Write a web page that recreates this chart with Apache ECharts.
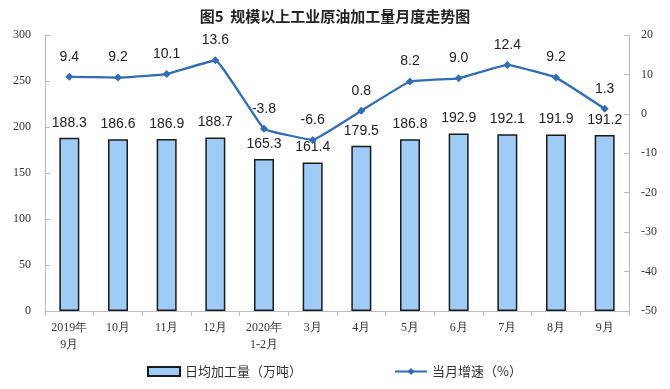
<!DOCTYPE html>
<html><head><meta charset="utf-8">
<script src="https://cdn.jsdelivr.net/npm/echarts@6/dist/echarts.min.js"></script>
<style>html,body{margin:0;padding:0;background:#fff;}#c{width:670px;height:389px;}</style>
</head><body><div id="c"></div>
<script>
const categories = ['2019年\n9月','10月','11月','12月','2020年\n1-2月','3月','4月','5月','6月','7月','8月','9月'];
const dailyOutput = [188.3,186.6,186.9,188.7,165.3,161.4,179.5,186.8,192.9,192.1,191.9,191.2];
const growth = [9.4,9.2,10.1,13.6,-3.8,-6.6,0.8,8.2,9.0,12.4,9.2,1.3];
const growthLabels = ['9.4','9.2','10.1','13.6','-3.8','-6.6','0.8','8.2','9.0','12.4','9.2','1.3'];
const chart = echarts.init(document.getElementById('c'));
const serif = '"Liberation Serif", serif';
const sans = '"Liberation Sans", Arial, sans-serif';
chart.setOption({
  animation:false,
  title:{text:'图5  规模以上工业原油加工量月度走势图',left:'center',top:4,textStyle:{fontFamily:'"Noto Sans CJK SC"',fontSize:15,fontWeight:'bold',color:'#222'}},
  grid:{left:45,right:41,top:35,bottom:78},
  legend:{bottom:6,left:142,itemGap:92,textStyle:{fontFamily:'"Noto Sans CJK SC"',fontSize:13,color:'#333'},
    data:[{name:'日均加工量（万吨）',icon:'rect'},{name:'当月增速（%）'}],itemWidth:32,itemHeight:9},
  xAxis:{type:'category',data:categories,axisLine:{lineStyle:{color:'#bbb'}},axisTick:{show:true,alignWithLabel:false,lineStyle:{color:'#bbb'}},
    axisLabel:{fontFamily:serif,fontSize:12,color:'#333',interval:0,lineHeight:17}},
  yAxis:[{type:'value',min:0,max:300,interval:50,splitLine:{show:false},axisLine:{show:true,lineStyle:{color:'#bbb'}},axisTick:{show:true,inside:true,lineStyle:{color:'#bbb'}},
    axisLabel:{fontFamily:serif,fontSize:12,color:'#333',margin:14}},
   {type:'value',min:-50,max:20,interval:10,splitLine:{show:false},axisLine:{show:true,lineStyle:{color:'#bbb'}},axisTick:{show:true,inside:true,lineStyle:{color:'#bbb'}},
    axisLabel:{fontFamily:serif,fontSize:12,color:'#333',margin:12}}],
  series:[
   {name:'日均加工量（万吨）',type:'bar',data:dailyOutput,barWidth:20,
    itemStyle:{color:'#9fcbf7',borderColor:'#1a1a1a',borderWidth:1.5},
    label:{show:true,position:'top',distance:8,fontFamily:sans,fontSize:14,color:'#222'}},
   {name:'当月增速（%）',type:'line',yAxisIndex:1,data:growth,symbol:'diamond',symbolSize:8,smooth:0.08,
    lineStyle:{color:'#2f6db5',width:2.3},itemStyle:{color:'#2f6db5'},
    label:{show:true,position:'top',distance:9,fontFamily:sans,fontSize:14,color:'#222',formatter:p=>growthLabels[p.dataIndex]}}
  ]
});
</script></body></html>
